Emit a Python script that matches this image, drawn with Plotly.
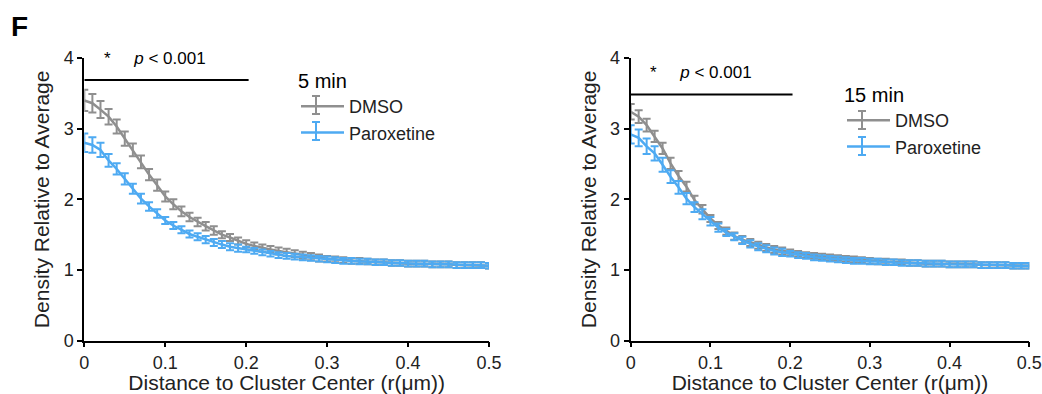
import plotly.graph_objects as go

# ---------------- data ----------------
r_um = [0.00, 0.01, 0.02, 0.03, 0.04, 0.05, 0.06, 0.07, 0.08, 0.09,
        0.10, 0.11, 0.12, 0.13, 0.14, 0.15, 0.16, 0.17, 0.18, 0.19,
        0.20, 0.21, 0.22, 0.23, 0.24, 0.25, 0.26, 0.27, 0.28, 0.29,
        0.30, 0.31, 0.32, 0.33, 0.34, 0.35, 0.36, 0.37, 0.38, 0.39,
        0.40, 0.41, 0.42, 0.43, 0.44, 0.45, 0.46, 0.47, 0.48, 0.49, 0.50]

# 5 min
dmso_5 = [3.40, 3.36, 3.27, 3.17, 3.03, 2.86, 2.70, 2.53, 2.35, 2.20,
          2.04, 1.93, 1.83, 1.75, 1.68, 1.62, 1.56, 1.50, 1.46, 1.41,
          1.37, 1.34, 1.31, 1.29, 1.27, 1.25, 1.23, 1.21, 1.19, 1.17,
          1.16, 1.15, 1.14, 1.13, 1.13, 1.12, 1.11, 1.11, 1.10, 1.10,
          1.09, 1.09, 1.09, 1.08, 1.08, 1.08, 1.07, 1.07, 1.07, 1.07, 1.06]
dmso_5_err = [0.15, 0.13, 0.12, 0.11, 0.10, 0.10, 0.09, 0.09, 0.08, 0.08,
              0.07, 0.07, 0.07, 0.06, 0.06, 0.06, 0.06, 0.05, 0.05, 0.05,
              0.05, 0.05, 0.05, 0.05, 0.05, 0.05, 0.05, 0.05, 0.05, 0.05,
              0.04, 0.04, 0.04, 0.04, 0.04, 0.04, 0.04, 0.04, 0.04, 0.04,
              0.04, 0.04, 0.04, 0.04, 0.04, 0.04, 0.04, 0.04, 0.04, 0.04, 0.04]
parox_5 = [2.80, 2.77, 2.70, 2.55, 2.43, 2.29, 2.15, 2.01, 1.90, 1.80,
           1.70, 1.63, 1.57, 1.51, 1.47, 1.43, 1.39, 1.36, 1.33, 1.31,
           1.29, 1.27, 1.25, 1.23, 1.21, 1.20, 1.19, 1.18, 1.17, 1.16,
           1.15, 1.14, 1.13, 1.13, 1.12, 1.12, 1.11, 1.11, 1.10, 1.10,
           1.09, 1.09, 1.09, 1.08, 1.08, 1.08, 1.07, 1.07, 1.07, 1.07, 1.06]
parox_5_err = [0.13, 0.11, 0.10, 0.09, 0.08, 0.08, 0.07, 0.07, 0.06, 0.06,
               0.05, 0.05, 0.05, 0.05, 0.05, 0.05, 0.05, 0.05, 0.05, 0.05,
               0.04, 0.04, 0.04, 0.04, 0.04, 0.04, 0.04, 0.04, 0.04, 0.04,
               0.04, 0.04, 0.04, 0.04, 0.04, 0.04, 0.04, 0.04, 0.04, 0.04,
               0.04, 0.04, 0.04, 0.04, 0.04, 0.04, 0.04, 0.04, 0.04, 0.04, 0.04]

# 15 min
dmso_15 = [3.24, 3.17, 3.05, 2.89, 2.72, 2.51, 2.33, 2.18, 1.99, 1.86,
           1.73, 1.63, 1.55, 1.48, 1.43, 1.39, 1.35, 1.32, 1.29, 1.27,
           1.25, 1.23, 1.21, 1.20, 1.19, 1.18, 1.17, 1.16, 1.15, 1.14,
           1.13, 1.12, 1.12, 1.11, 1.11, 1.10, 1.10, 1.09, 1.09, 1.09,
           1.08, 1.08, 1.08, 1.08, 1.07, 1.07, 1.07, 1.07, 1.06, 1.06, 1.06]
dmso_15_err = [0.11, 0.09, 0.09, 0.08, 0.08, 0.08, 0.07, 0.07, 0.06, 0.06,
               0.05, 0.05, 0.05, 0.05, 0.05, 0.05, 0.05, 0.05, 0.05, 0.05,
               0.04, 0.04, 0.04, 0.04, 0.04, 0.04, 0.04, 0.04, 0.04, 0.04,
               0.04, 0.04, 0.04, 0.04, 0.04, 0.04, 0.04, 0.04, 0.04, 0.04,
               0.04, 0.04, 0.04, 0.04, 0.04, 0.04, 0.04, 0.04, 0.04, 0.04, 0.04]
parox_15 = [2.92, 2.87, 2.75, 2.65, 2.49, 2.32, 2.17, 2.01, 1.89, 1.79,
            1.69, 1.60, 1.53, 1.47, 1.42, 1.37, 1.33, 1.30, 1.27, 1.25,
            1.23, 1.21, 1.20, 1.18, 1.17, 1.16, 1.15, 1.14, 1.13, 1.13,
            1.12, 1.12, 1.11, 1.11, 1.10, 1.10, 1.10, 1.09, 1.09, 1.09,
            1.08, 1.08, 1.08, 1.08, 1.07, 1.07, 1.07, 1.07, 1.06, 1.06, 1.06]
parox_15_err = [0.13, 0.12, 0.11, 0.10, 0.10, 0.09, 0.09, 0.08, 0.07, 0.07,
                0.06, 0.06, 0.05, 0.05, 0.05, 0.05, 0.05, 0.05, 0.05, 0.05,
                0.04, 0.04, 0.04, 0.04, 0.04, 0.04, 0.04, 0.04, 0.04, 0.04,
                0.04, 0.04, 0.04, 0.04, 0.04, 0.04, 0.04, 0.04, 0.04, 0.04,
                0.04, 0.04, 0.04, 0.04, 0.04, 0.04, 0.04, 0.04, 0.04, 0.04, 0.04]

x_tickvals = [0, 0.1, 0.2, 0.3, 0.4, 0.5]
x_ticktext = ["0", "0.1", "0.2", "0.3", "0.4", "0.5"]
y_tickvals = [0, 1, 2, 3, 4]

panel_titles = ["5 min", "15 min"]
series_names = ["DMSO", "Paroxetine"]
sig_text = "*     <i>p</i> < 0.001"
sig_level = [3.69, 3.485]     # y of significance bar per panel
sig_x_end = 0.203             # significance bar spans 0 .. this r
sig_text_y = [4.0, 3.79]

# ---------------- style ----------------
GRAY = "#8f8f8f"
BLUE = "#4eaaf2"
FONT = "Liberation Sans, Arial, sans-serif"
W, H = 1042, 394

fig = go.Figure()

panels = [
    (dmso_5, dmso_5_err, parox_5, parox_5_err, "x", "y", "legend"),
    (dmso_15, dmso_15_err, parox_15, parox_15_err, "x2", "y2", "legend2"),
]
for (d, de, p, pe, xa, ya, lg) in panels:
    for vals, errs, name, col in [(d, de, series_names[0], GRAY),
                                  (p, pe, series_names[1], BLUE)]:
        fig.add_trace(go.Scatter(
            x=r_um, y=vals, name=name, mode="lines",
            line=dict(color=col, width=2.5),
            error_y=dict(type="data", array=errs, color=col,
                         thickness=2, width=4),
            xaxis=xa, yaxis=ya, legend=lg, cliponaxis=False,
        ))

axis_common = dict(
    showgrid=False, zeroline=False, showline=True, linecolor="black",
    ticks="outside", ticklen=5, tickcolor="black", tickwidth=1.5,
    tickfont=dict(family=FONT, size=18, color="#222"),
    automargin=False,
)
xdom = [[84.3 / W, 489.0 / W], [630.7 / W, 1029.3 / W]]
ydom = [1 - 340.7 / H, 1 - 58.0 / H]

for i, (xk, yk) in enumerate([("xaxis", "yaxis"), ("xaxis2", "yaxis2")]):
    fig.update_layout({
        xk: dict(axis_common, domain=xdom[i], range=[0, 0.5],
                 tickvals=x_tickvals, ticktext=x_ticktext, linewidth=1.5,
                 anchor="y" if i == 0 else "y2",
                 title=dict(text="Distance to Cluster Center (r(\u03bcm))",
                            font=dict(family=FONT, size=21, color="#222"),
                            standoff=4)),
        yk: dict(axis_common, domain=ydom, range=[0, 4],
                 tickvals=y_tickvals, linewidth=2,
                 anchor="x" if i == 0 else "x2",
                 title=dict(text="Density Relative to Average",
                            font=dict(family=FONT, size=21, color="#222"),
                            standoff=8)),
    })

# significance bars and text
for i, (xr, yr) in enumerate([("x", "y"), ("x2", "y2")]):
    fig.add_shape(type="line", xref=xr, yref=yr, x0=0, x1=sig_x_end,
                  y0=sig_level[i], y1=sig_level[i],
                  line=dict(color="black", width=2))
    fig.add_annotation(xref=xr, yref=yr, x=0.022, y=sig_text_y[i],
                       text=sig_text, showarrow=False, xanchor="left",
                       yanchor="middle",
                       font=dict(family=FONT, size=17, color="black"))

legend_common = dict(
    bgcolor="rgba(0,0,0,0)", borderwidth=0, xanchor="left", yanchor="top",
    font=dict(family=FONT, size=18, color="#222"), tracegroupgap=0,
    itemwidth=43,
)
fig.update_layout(
    legend=dict(legend_common, x=296 / W, y=1 - 62 / H,
                title=dict(text=panel_titles[0],
                           font=dict(family=FONT, size=20, color="black"))),
    legend2=dict(legend_common, x=842 / W, y=1 - 76 / H,
                 title=dict(text=panel_titles[1],
                            font=dict(family=FONT, size=20, color="black"))),
)

# error-bar glyphs over the legend line samples (decoration)
glyphs = [(316, 105, GRAY), (316, 131, BLUE), (862, 120, GRAY), (862, 146, BLUE)]
for gx, gy, col in glyphs:
    for (xa, ya, xb, yb) in [(gx, gy - 9, gx, gy + 9),
                             (gx - 4, gy - 9, gx + 4, gy - 9),
                             (gx - 4, gy + 9, gx + 4, gy + 9)]:
        fig.add_shape(type="line", xref="paper", yref="paper",
                      x0=xa / W, x1=xb / W, y0=1 - ya / H, y1=1 - yb / H,
                      line=dict(color=col, width=2))

fig.add_annotation(xref="paper", yref="paper", x=9 / W, y=1 - 9 / H,
                   text="<b>F</b>", showarrow=False, xanchor="left",
                   yanchor="top",
                   font=dict(family=FONT, size=28, color="black"))

fig.update_layout(
    width=W, height=H,
    margin=dict(l=0, r=0, t=0, b=0),
    paper_bgcolor="white", plot_bgcolor="white",
    showlegend=True,
)

fig.write_html("out.html",
               config={"displayModeBar": False},
               post_script="document.body.style.margin='0px';"
                           "document.body.style.overflow='hidden';")
